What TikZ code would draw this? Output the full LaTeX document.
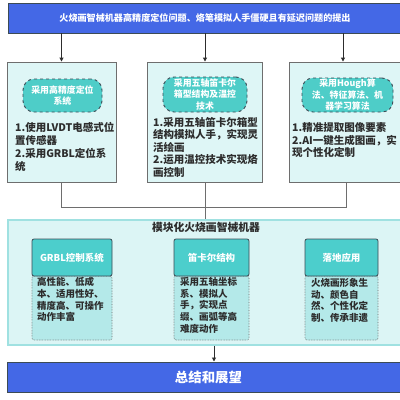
\documentclass[tikz,border=0pt]{standalone}
\usepackage{fontspec}
\setmainfont{Noto Sans CJK SC}
\usetikzlibrary{arrows.meta}
\definecolor{barblue}{RGB}{68,104,230}
\definecolor{boxfill}{RGB}{222,246,246}
\definecolor{boxline}{RGB}{110,110,110}
\definecolor{pillfill}{RGB}{78,205,200}
\definecolor{pillline}{RGB}{60,75,85}
\definecolor{panelfill}{RGB}{220,245,245}
\definecolor{panelline}{RGB}{160,225,225}
\definecolor{hdrfill}{RGB}{76,206,204}
\definecolor{bodyfill}{RGB}{180,233,233}
\definecolor{txtdark}{RGB}{45,45,45}
\tikzset{
  bar/.style={draw=pillline, line width=1pt, fill=barblue, rectangle, inner sep=0pt},
  upbox/.style={draw=boxline, line width=0.9pt, fill=boxfill, rectangle, inner sep=0pt},
  pill/.style={draw=pillline, dashed, line width=0.9pt, fill=pillfill, rounded corners=11pt, inner sep=0pt, align=center, text=white, font=\bfseries\fontsize{8.9}{11.5}\selectfont},
  bodytxt/.style={anchor=north west, inner sep=0pt, align=left, text=txtdark, font=\bfseries\fontsize{10.5}{13}\selectfont},
  hdr/.style={draw=pillline, line width=0.8pt, fill=hdrfill, rounded corners=2pt, inner sep=0pt, text=white, font=\bfseries\fontsize{9.5}{11}\selectfont},
  subbody/.style={draw=boxline, densely dotted, line width=0.6pt, fill=bodyfill, rounded corners=2pt, inner sep=0pt},
  subtxt/.style={anchor=north west, inner sep=0pt, align=left, text=txtdark, font=\bfseries\fontsize{9.5}{11.8}\selectfont},
  conn/.style={draw=boxline, line width=0.9pt},
  arr/.style={draw=txtdark, line width=0.9pt, -{Triangle[length=4pt,width=4pt]}}
}
\begin{document}
\begin{tikzpicture}[x=1pt,y=-1pt]
\clip (0,0) rectangle (400,400);
\fill[white] (0,0) rectangle (400,400);
% top bar
\node[bar, minimum width=394pt, minimum height=30pt] (top) at (205,18) {};
\node[text=white, font=\bfseries\fontsize{9.1}{11}\selectfont, inner sep=0pt] (toptxt) at (205,18) {火烧画智械机器高精度定位问题、烙笔模拟人手僵硬且有延迟问题的提出};
% upper boxes
\node[upbox, minimum width=109pt, minimum height=120pt] (b1) at (61.5,122) {};
\node[upbox, minimum width=115pt, minimum height=120pt] (b2) at (205,122) {};
\node[upbox, minimum width=115pt, minimum height=120pt] (b3) at (346.5,122) {};
\coordinate (a1) at (61.5,33);
\coordinate (a2) at (205,33);
\coordinate (a3) at (343,33);
\draw[arr] (a1) -- (b1.north);
\draw[arr] (a2) -- (b2.north);
\draw[arr] (a3) -- (b3.north -| a3);
% pills
\node[pill, minimum width=79pt, minimum height=33pt] (p1) at (62.5,95.5) {采用高精度定位\\系统};
\node[pill, minimum width=84pt, minimum height=35pt] (p2) at (205,94.5) {采用五轴笛卡尔\\箱型结构及温控\\技术};
\node[pill, minimum width=91pt, minimum height=34pt] (p3) at (347.5,95) {采用Hough算\\法、特征算法、机\\器学习算法};
% body texts
\node[bodytxt] (t1) at (15,122) {1.使用LVDT电感式位\\置传感器\\2.采用GRBL定位系\\统};
\node[bodytxt, font=\bfseries\fontsize{10.5}{12.5}\selectfont] (t2) at (153,117) {1.采用五轴笛卡尔箱型\\结构模拟人手，实现灵\\活绘画\\2.运用温控技术实现烙\\画控制};
\node[bodytxt, font=\bfseries\fontsize{10.5}{12.5}\selectfont] (t3) at (292,122.5) {1.精准提取图像要素\\2.AI一键生成图画，实\\现个性化定制};
% connectors
\coordinate (j1) at (61.5,207);
\coordinate (j2) at (205,207);
\coordinate (j3) at (346.5,207);
\draw[conn] (b1.south) -- (j1) -- (j3) -- (b3.south);
% panel
\node[draw=panelline, line width=1.5pt, fill=panelfill, rectangle, inner sep=0pt, minimum width=396pt, minimum height=125pt] (panel) at (206,282.5) {};
\draw[conn] (b2.south) -- (panel.north -| b2.south);
\node[text=txtdark, font=\bfseries\fontsize{10.8}{12}\selectfont, inner sep=0pt] (ptitle) at (206,227) {模块化火烧画智械机器};
% sub boxes
\node[subbody, minimum width=80pt, minimum height=64pt] (s1b) at (72,308) {};
\node[hdr, minimum width=80pt, minimum height=37pt] (s1) at (72,257.5) {GRBL控制系统};
\node[subtxt] (s1t) at (37,277) {高性能、低成\\本、适用性好、\\精度高、可操作\\动作丰富};
\node[subbody, minimum width=75pt, minimum height=64pt] (s2b) at (211.5,308) {};
\node[hdr, minimum width=75pt, minimum height=37pt] (s2) at (211.5,257.5) {笛卡尔结构};
\node[subtxt] (s2t) at (180,277) {采用五轴坐标\\系、模拟人\\手，实现点\\缀、画弧等高\\难度动作};
\node[subbody, minimum width=73pt, minimum height=64pt] (s3b) at (341.5,308) {};
\node[hdr, minimum width=73pt, minimum height=37pt] (s3) at (341.5,257.5) {落地应用};
\node[subtxt] (s3t) at (311,278) {火烧画形象生\\动、颜色自\\然、个性化定\\制、传承非遗};
% bottom bar
\node[bar, minimum width=402pt, minimum height=30pt] (bot) at (208,377) {};
\node[text=white, font=\bfseries\fontsize{13.4}{15}\selectfont, inner sep=0pt] (bottxt) at (208.5,377) {总结和展望};
\draw[arr] (panel.south -| 214,0) -- (bot.north -| 214,0);
\end{tikzpicture}
\end{document}
